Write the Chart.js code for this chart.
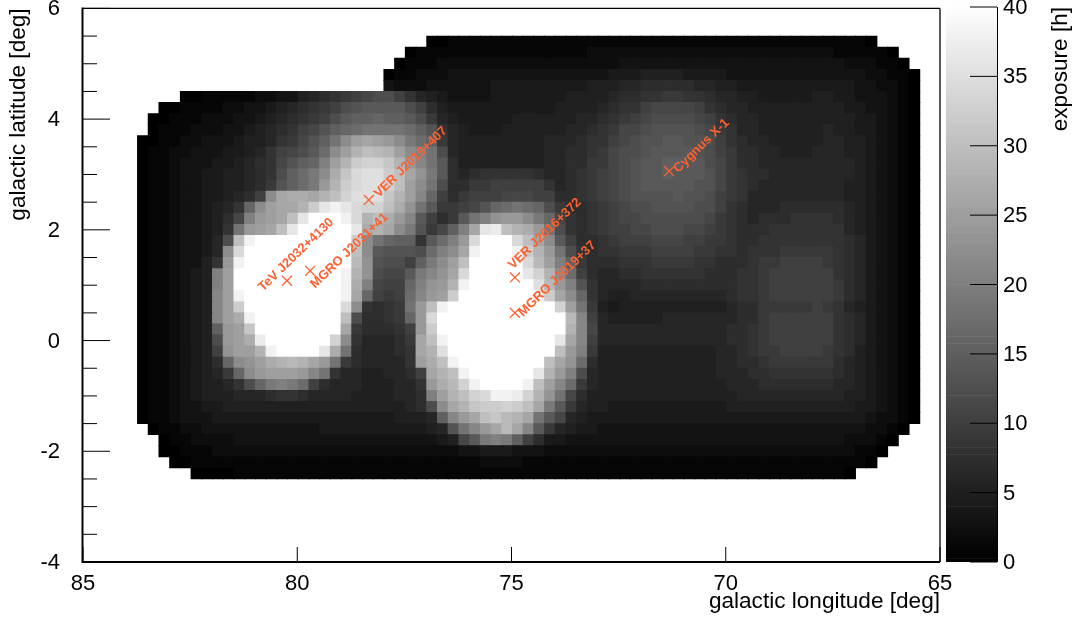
<!DOCTYPE html>
<html><head><meta charset="utf-8">
<script src="https://cdn.jsdelivr.net/npm/chart.js@4"></script>
<style>html,body{margin:0;padding:0;background:#fff;overflow:hidden}canvas{position:absolute;top:0}</style>
</head><body>
<canvas id="map" width="1079" height="621" style="left:0"></canvas>
<canvas id="bar" width="139" height="621" style="left:940px"></canvas>
<script>
const _ = null;
const cellLongitudes = [83.6,83.35,83.1,82.85,82.6,82.35,82.1,81.85,81.6,81.35,81.1,80.85,80.6,80.35,80.1,79.85,79.6,79.35,79.1,78.85,78.6,78.35,78.1,77.85,77.6,77.35,77.1,76.85,76.6,76.35,76.1,75.85,75.6,75.35,75.1,74.85,74.6,74.35,74.1,73.85,73.6,73.35,73.1,72.85,72.6,72.35,72.1,71.85,71.6,71.35,71.1,70.85,70.6,70.35,70.1,69.85,69.6,69.35,69.1,68.85,68.6,68.35,68.1,67.85,67.6,67.35,67.1,66.85,66.6,66.35,66.1,65.85,65.6];
const cellLatitudes = [5.4,5.2,5.0,4.8,4.6,4.4,4.2,4.0,3.8,3.6,3.4,3.2,3.0,2.8,2.6,2.4,2.2,2.0,1.8,1.6,1.4,1.2,1.0,0.8,0.6,0.4,0.2,0,-0.2,-0.4,-0.6,-0.8,-1.0,-1.2,-1.4,-1.6,-1.8,-2.0,-2.2,-2.4];
const row00=[_,_,_,_,_,_,_,_,_,_, _,_,_,_,_,_,_,_,_,_, _,_,_,_,_,_,_,0,0,1, 1,1,1,1,1,1,1,1,1,1, 1,1,1,1,1,1,1,1,1,1, 1,1,1,1,1,1,1,1,1,1, 1,1,1,1,1,1,1,1,0,_, _,_,_];
const row01=[_,_,_,_,_,_,_,_,_,_, _,_,_,_,_,_,_,_,_,_, _,_,_,_,_,0,1,1,1,1, 1,1,1,1,1,1,1,1,1,1, 1,1,2,2,2,2,2,2,2,2, 2,2,2,2,2,2,2,2,2,2, 2,2,2,2,2,1,1,1,1,1, 0,_,_];
const row02=[_,_,_,_,_,_,_,_,_,_, _,_,_,_,_,_,_,_,_,_, _,_,_,_,0,1,1,1,2,2, 2,2,2,2,2,2,2,2,2,2, 2,2,2,2,2,3,3,3,3,3, 3,3,3,3,3,3,3,3,3,3, 3,3,3,3,3,3,2,2,2,1, 1,0,_];
const row03=[_,_,_,_,_,_,_,_,_,_, _,_,_,_,_,_,_,_,_,_, _,_,_,0,1,1,2,2,2,3, 3,3,3,3,3,3,3,3,3,3, 3,3,3,3,4,4,4,5,5,5, 5,4,4,4,4,3,3,3,3,3, 3,3,3,3,3,3,3,3,2,2, 1,1,0];
const row04=[_,_,_,_,_,_,_,_,_,_, _,_,_,_,_,_,_,_,_,_, _,_,_,3,2,2,2,3,3,3, 3,3,3,4,4,4,4,4,4,4, 4,4,5,5,5,6,6,7,7,7, 7,7,6,6,5,5,4,4,4,4, 4,4,4,4,4,4,4,3,3,2, 2,1,0];
const row05=[_,_,_,_,0,0,1,1,1,1, 1,2,2,3,3,5,6,7,8,9, 10,11,12,12,10,8,6,5,4,3, 3,3,3,4,4,4,4,4,4,4, 5,5,5,5,6,7,7,8,8,9, 9,8,8,7,6,6,5,5,4,4, 4,4,4,5,5,4,4,3,3,3, 2,1,0];
const row06=[_,_,0,0,1,1,1,1,2,2, 3,3,4,5,6,7,8,9,10,12, 13,14,14,14,14,12,10,7,5,4, 4,4,4,4,4,4,4,4,4,5, 5,5,5,6,7,8,8,10,11,11, 11,11,10,8,7,6,6,5,5,5, 5,5,5,5,5,5,4,4,3,3, 2,1,0];
const row07=[_,0,0,1,1,1,2,2,2,3, 3,4,5,6,7,8,9,10,12,14, 15,15,16,15,15,14,12,9,6,5, 4,4,4,4,4,5,5,5,5,5, 5,6,6,7,8,9,10,11,12,12, 12,12,11,10,8,7,6,6,5,5, 5,5,5,5,5,5,5,4,4,3, 2,1,0];
const row08=[_,0,1,1,1,2,2,2,3,3, 4,5,6,7,8,10,11,13,15,16, 17,18,18,18,18,17,15,13,8,6, 5,4,4,4,5,5,5,5,5,5, 6,6,7,8,9,11,11,12,13,13, 13,13,12,11,9,8,6,6,5,5, 5,5,5,5,6,5,5,4,4,3, 2,1,0];
const row09=[0,0,1,1,2,2,3,3,3,4, 5,5,6,8,9,11,13,15,18,22, 25,26,25,24,22,19,17,15,9,6, 5,5,5,5,5,5,5,5,6,6, 6,7,8,8,10,11,12,13,13,14, 14,13,13,12,10,8,7,6,6,5, 5,5,5,5,6,6,5,5,4,3, 2,1,0];
const row10=[0,1,1,2,2,3,3,3,4,4, 5,6,8,10,11,12,14,17,22,25, 28,30,29,28,25,22,20,18,12,6, 5,5,5,5,5,5,5,5,6,6, 7,7,8,9,11,12,12,13,14,14, 14,14,13,12,10,9,7,7,6,6, 5,5,5,6,6,6,5,5,4,3, 2,1,0];
const row11=[0,1,1,2,3,3,3,4,4,5, 6,7,8,11,13,15,16,20,25,28, 32,33,33,31,28,24,21,18,14,7, 5,5,5,5,5,5,5,5,6,6, 7,7,9,9,11,12,13,14,14,15, 15,14,14,12,11,9,7,7,6,6, 6,6,6,6,6,6,6,5,4,3, 2,1,0];
const row12=[0,1,1,2,3,3,4,4,5,5, 6,7,8,12,15,17,19,22,27,31, 34,35,35,32,30,26,23,19,14,7, 6,7,8,8,8,8,8,7,6,6, 7,8,9,10,11,12,13,14,14,15, 14,14,14,13,11,9,8,7,7,6, 6,6,6,6,6,6,6,5,4,3, 2,1,0];
const row13=[0,1,1,2,3,3,4,4,5,5, 6,7,9,13,15,17,19,24,28,32, 34,35,35,33,30,25,22,18,12,7, 7,9,9,10,10,10,10,10,8,6, 7,8,9,10,11,12,13,14,14,14, 14,14,13,13,11,9,8,7,6,6, 6,6,6,6,6,6,5,5,4,3, 2,1,0];
const row14=[0,1,1,2,3,3,4,4,5,6, 7,10,22,26,27,27,26,28,30,33, 35,35,35,31,28,25,21,16,10,7, 9,10,10,10,11,11,11,10,10,7, 7,8,9,10,11,12,13,13,13,13, 14,13,13,12,10,9,8,6,6,6, 6,6,6,6,6,6,5,5,4,3, 2,1,0];
const row15=[0,1,1,2,3,3,4,5,6,8, 16,22,25,26,26,28,32,36,38,36, 34,33,33,30,27,23,18,14,9,9, 10,11,13,16,17,18,17,16,12,9, 7,7,8,9,10,11,12,12,13,13, 13,13,12,12,10,8,7,6,6,6, 7,7,7,7,7,7,6,5,4,3, 2,1,0];
const row16=[0,1,1,2,3,3,4,5,7,11, 20,24,25,26,30,36,40,40,40,38, 34,28,30,27,24,21,14,10,7,9, 14,18,20,23,24,24,22,19,16,11, 8,7,8,9,10,11,11,12,12,12, 12,12,12,11,9,8,7,6,7,7, 7,8,8,8,8,7,6,5,4,3, 2,1,0];
const row17=[0,1,1,2,3,3,4,5,8,18, 24,25,26,30,36,40,40,40,40,40, 36,27,28,26,22,19,13,9,11,15, 20,26,36,37,30,28,27,24,18,12, 8,7,8,9,10,10,11,11,12,12, 12,11,11,10,9,8,7,7,7,8, 8,8,8,8,8,8,6,5,4,3, 2,1,0];
const row18=[0,1,1,2,3,3,4,6,12,30, 38,40,40,40,40,40,40,40,40,40, 32,22,18,16,15,15,8,14,17,20, 24,34,40,40,40,34,30,26,22,14, 10,7,7,8,9,10,10,10,11,11, 11,10,10,9,9,8,7,7,8,8, 8,8,8,8,8,8,7,6,4,3, 2,1,0];
const row19=[0,1,1,2,3,3,4,6,22,34, 40,40,40,40,40,40,40,40,40,40, 30,22,14,13,13,13,12,17,20,22, 26,38,40,40,40,38,32,28,24,18, 12,8,7,8,8,9,9,9,10,10, 10,10,9,9,8,8,7,8,8,8, 9,9,9,9,9,8,7,6,4,3, 2,1,0];
const row20=[0,1,1,2,3,3,5,8,24,38, 40,40,40,40,40,40,40,40,40,40, 29,23,13,12,12,10,15,19,22,25, 30,40,40,40,40,40,34,29,25,20, 15,9,7,7,7,8,8,8,9,9, 9,9,8,8,7,7,7,8,9,9, 10,10,10,10,9,8,7,6,4,3, 2,1,0];
const row21=[0,1,1,2,3,4,5,20,25,40, 40,40,40,40,40,40,40,40,40,38, 28,23,12,11,11,14,19,21,23,26, 34,40,40,40,40,40,36,33,28,22, 17,10,7,6,6,7,7,8,8,8, 8,8,8,7,7,7,8,8,9,10, 10,10,10,10,10,8,7,6,4,3, 2,1,0];
const row22=[0,1,1,2,3,4,5,20,25,40, 40,40,40,40,40,40,40,40,40,38, 27,20,11,10,10,16,20,23,24,28, 38,40,40,40,40,40,40,35,29,24, 20,13,8,6,6,6,6,7,7,7, 7,7,7,7,7,7,8,8,9,10, 10,10,10,10,10,9,7,6,4,3, 2,1,0];
const row23=[0,1,1,2,3,4,5,21,25,38, 40,40,40,40,40,40,40,40,40,38, 26,16,10,9,10,17,21,24,25,32, 40,40,40,40,40,40,40,38,32,26, 22,16,8,6,5,5,6,6,6,6, 6,6,6,6,6,7,8,8,9,10, 10,10,10,10,10,9,7,6,4,3, 2,1,0];
const row24=[0,1,1,2,3,4,5,21,25,32, 40,40,40,40,40,40,40,40,40,34, 22,8,7,8,9,18,24,30,38,40, 40,40,40,40,40,40,40,40,40,33, 25,18,9,5,4,5,5,5,5,5, 5,5,5,5,5,6,7,7,9,9, 9,9,9,10,9,8,6,5,4,3, 2,1,0];
const row25=[0,1,1,2,3,4,5,21,25,27, 38,40,40,40,40,40,40,40,40,30, 12,7,7,8,9,16,24,34,40,40, 40,40,40,40,40,40,40,40,40,40, 29,21,10,6,5,5,5,5,5,6, 6,6,6,6,6,6,7,7,9,10, 10,10,10,10,10,8,7,6,4,3, 2,1,0];
const row26=[0,1,1,2,3,4,5,15,24,25, 31,40,40,40,40,40,40,40,40,26, 9,7,7,7,8,10,24,32,40,40, 40,40,40,40,40,40,40,40,40,40, 28,21,11,6,6,6,6,6,6,6, 6,6,6,6,6,7,7,8,9,10, 10,10,10,10,10,8,7,6,4,3, 2,1,0];
const row27=[0,1,1,2,3,4,5,12,24,25, 27,37,40,40,40,40,40,40,33,22, 8,6,6,6,7,9,26,30,38,40, 40,40,40,40,40,40,40,40,40,36, 26,21,10,6,6,6,6,6,6,6, 6,6,6,6,6,7,7,8,9,10, 10,10,10,10,10,8,7,6,4,3, 2,1,0];
const row28=[0,1,1,2,3,4,5,10,23,25, 25,28,38,40,40,40,40,36,27,18, 7,6,6,6,7,8,26,28,35,40, 40,40,40,40,40,40,40,40,40,30, 24,20,9,5,5,5,5,5,5,5, 5,5,5,5,6,6,7,8,9,9, 10,10,10,10,9,8,7,5,4,3, 2,1,0];
const row29=[0,1,1,2,3,4,5,7,16,22, 23,25,27,28,29,28,26,24,18,9, 7,6,6,6,6,8,25,27,30,38, 40,40,40,40,40,40,40,40,30,26, 23,17,7,5,5,5,5,5,5,5, 5,5,5,5,6,6,7,7,8,9, 9,9,9,9,9,7,6,5,4,3, 2,1,0];
const row30=[0,1,1,2,3,4,5,6,9,16, 22,24,25,25,25,24,21,18,8,6, 6,5,5,6,6,7,10,26,28,30, 38,40,40,40,40,40,40,36,28,24, 20,12,6,5,5,5,5,5,5,5, 5,5,5,5,6,6,6,7,7,8, 8,8,8,8,8,7,6,5,4,3, 2,1,0];
const row31=[0,1,1,2,3,4,5,5,6,8, 12,16,19,20,19,17,10,7,6,6, 6,5,5,5,6,6,8,24,27,29, 33,38,40,40,40,40,38,30,25,21, 17,9,6,5,5,5,5,5,5,5, 5,5,5,5,5,6,6,6,7,7, 7,7,7,7,7,6,6,5,4,3, 2,1,0];
const row32=[0,1,1,2,3,4,5,5,5,6, 6,6,7,8,8,7,6,6,6,6, 5,5,5,5,6,6,7,20,25,28, 30,33,34,38,38,37,33,28,23,18, 11,7,5,5,5,5,5,5,5,5, 5,5,5,5,5,5,6,6,6,6, 6,6,6,6,6,6,5,5,4,3, 2,1,0];
const row33=[0,1,1,2,3,3,4,4,5,5, 5,5,5,5,5,5,5,5,5,5, 5,5,5,5,5,6,7,12,22,26, 28,31,32,32,33,32,30,26,19,14, 9,6,5,5,4,4,4,4,4,4, 4,4,4,4,4,5,5,5,5,5, 5,5,5,5,5,5,5,4,4,3, 2,1,0];
const row34=[0,1,1,2,3,3,3,4,4,4, 4,4,4,4,4,4,4,4,4,4, 4,4,4,4,5,5,5,6,15,21, 24,26,30,31,29,28,26,18,14,11, 6,5,4,4,4,4,4,4,4,4, 4,4,4,4,4,4,4,4,4,4, 4,4,4,4,4,4,4,4,3,2, 2,1,0];
const row35=[_,0,1,1,2,2,3,3,3,3, 3,3,3,3,3,3,3,4,4,4, 4,4,4,4,4,4,4,5,6,13, 18,21,24,26,29,26,21,14,9,6, 5,4,4,3,3,3,3,3,3,3, 3,3,3,3,3,3,3,3,3,3, 3,3,3,3,3,3,3,3,2,2, 1,0,_];
const row36=[_,_,0,1,1,2,2,2,2,3, 3,3,3,3,3,3,3,3,3,3, 3,3,3,3,3,3,3,3,4,5, 11,14,19,20,19,15,10,7,4,4, 3,3,3,3,3,3,3,3,3,3, 3,3,3,3,3,3,3,3,3,3, 3,3,3,3,3,3,2,2,2,1, 0,_,_];
const row37=[_,_,0,0,1,1,1,2,2,2, 2,2,2,2,2,2,2,2,2,2, 2,2,2,2,2,2,2,2,2,2, 3,3,4,4,4,3,3,3,2,2, 2,2,2,2,2,2,2,2,2,2, 2,2,2,2,2,2,2,2,2,2, 2,2,2,2,2,2,2,1,1,0, _,_,_];
const row38=[_,_,_,0,0,1,1,1,1,1, 1,1,1,1,1,1,1,1,1,1, 1,1,1,1,1,1,1,1,1,1, 1,1,2,2,2,2,1,1,1,1, 1,1,1,1,1,1,1,1,1,1, 1,1,1,1,1,1,1,1,1,1, 1,1,1,1,1,1,1,1,0,_, _,_,_];
const row39=[_,_,_,_,_,0,0,0,0,1, 1,1,1,1,1,1,1,1,1,1, 1,1,1,1,1,1,1,1,1,1, 1,1,1,1,1,1,1,1,1,1, 1,1,1,1,1,1,1,1,1,1, 1,1,1,1,1,1,1,1,1,1, 1,1,1,1,1,1,0,_,_,_, _,_,_];
const exposureRows = [row00,row01,row02,row03,row04,row05,row06,row07,row08,row09,row10,row11,row12,row13,row14,row15,row16,row17,row18,row19,row20,row21,row22,row23,row24,row25,row26,row27,row28,row29,row30,row31,row32,row33,row34,row35,row36,row37,row38,row39];

const sourceNames = ['TeV J2032+4130','MGRO J2031+41','VER J2019+407','VER J2016+372','MGRO J2019+37','Cygnus X-1'];
const sourceLon = [80.24,79.70,78.33,74.92,74.92,71.32];
const sourceLat = [1.08,1.26,2.54,1.14,0.50,3.06];
const labelOffsetX = [-24,5,10,-2,8,9];
const labelOffsetY = [11,18,-2,-8,4,2];
const colorbarLevels = [];
for (let k = 0; k < 160; k++) colorbarLevels.push(k * 0.25);

const ORANGE = '#ff6030';
const FONT = '"Liberation Sans", Arial, sans-serif';
const gray = v => { const g = Math.round(Math.min(v, 40) / 40 * 255); return `rgb(${g},${g},${g})`; };

const cells = [];
exposureRows.forEach((row, j) => row.forEach((v, i) => {
  if (v !== null) cells.push({x: cellLongitudes[i], y: cellLatitudes[j], v});
}));
const sources = sourceNames.map((name, i) => ({x: sourceLon[i], y: sourceLat[i], name, dx: labelOffsetX[i], dy: labelOffsetY[i]}));

function text(ctx, str, x, y, rot, align, font, color) {
  ctx.save(); ctx.translate(x, y); ctx.rotate(rot);
  ctx.font = font; ctx.fillStyle = color; ctx.textAlign = align; ctx.textBaseline = 'alphabetic';
  ctx.fillText(str, 0, 0); ctx.restore();
}
function line(ctx, x1, y1, x2, y2, w) {
  ctx.beginPath(); ctx.lineWidth = w; ctx.strokeStyle = '#000'; ctx.moveTo(x1, y1); ctx.lineTo(x2, y2); ctx.stroke();
}
const frame = {
  id: 'frame',
  afterDatasetsDraw(chart) {
    const {ctx, chartArea: a, scales: {x, y}} = chart;
    ctx.save();
    line(ctx, a.left - 0.5, a.top - 1, a.left - 0.5, a.bottom + 1, 2);
    line(ctx, a.left, a.bottom, a.right, a.bottom, 2);
    line(ctx, a.left, a.top, a.right, a.top, 1.3);
    line(ctx, a.right, a.top, a.right, a.bottom, 1.3);
    y.ticks.forEach(t => {
      const py = y.getPixelForValue(t.value);
      const major = Math.abs(t.value % 2) < 1e-6;
      line(ctx, a.left, py, a.left + (major ? 27 : 14), py, 1);
    });
    x.ticks.forEach(t => {
      const px = x.getPixelForValue(t.value);
      line(ctx, px, a.bottom, px, a.bottom - 15, 1);
    });
    sources.forEach(s => {
      const px = x.getPixelForValue(s.x) + s.dx, py = y.getPixelForValue(s.y) + s.dy;
      text(ctx, s.name, px, py, -44 * Math.PI / 180, 'left', 'bold 13px ' + FONT, ORANGE);
    });
    text(ctx, 'galactic longitude [deg]', a.right, 608, 0, 'right', '22.6px ' + FONT, '#000');
    text(ctx, 'galactic latitude [deg]', 25, a.top, -Math.PI / 2, 'right', '22.6px ' + FONT, '#000');
    ctx.restore();
  }
};
new Chart(document.getElementById('map'), {
  type: 'scatter',
  plugins: [frame],
  data: {datasets: [
    {label: 'exposure', data: cells, pointStyle: 'rect', pointRadius: 8.4, pointHoverRadius: 8.4, borderWidth: 0,
     backgroundColor: c => gray(c.raw ? c.raw.v : 0), order: 2},
    {label: 'sources', data: sources, pointStyle: 'crossRot', pointRadius: 7, borderWidth: 1.3,
     borderColor: ORANGE, backgroundColor: ORANGE, order: 1}
  ]},
  options: {
    responsive: false, animation: false, events: [],
    layout: {padding: {left: 0, top: 7, right: 139, bottom: 0}},
    plugins: {legend: {display: false}, tooltip: {enabled: false}},
    scales: {
      x: {type: 'linear', reverse: true, min: 65, max: 85,
          border: {display: false}, grid: {display: false, drawTicks: false},
          ticks: {stepSize: 5, maxRotation: 0, autoSkip: false, padding: 9, color: '#000', font: {family: FONT, size: 22}},
          afterFit(s) { s.height = 59; s.paddingLeft = 0; s.paddingRight = 0; }},
      y: {type: 'linear', min: -4, max: 6,
          border: {display: false}, grid: {display: false, drawTicks: false},
          ticks: {stepSize: 0.5, autoSkip: false, padding: 23, labelOffset: 1, color: '#000', font: {family: FONT, size: 22},
                  callback: v => Math.abs(v % 2) < 1e-6 ? String(v) : ''},
          afterFit(s) { s.width = 83; s.paddingTop = 0; s.paddingBottom = 0; }}
    }
  }
});
const barFrame = {
  id: 'barFrame',
  afterDatasetsDraw(chart) {
    const {ctx, chartArea: a, scales: {y}} = chart;
    ctx.save();
    line(ctx, a.right + 0.5, a.top, a.right + 0.5, a.bottom, 1);
    y.ticks.forEach(t => {
      const py = y.getPixelForValue(t.value);
      line(ctx, a.right - 27, py, a.right, py, 1);
    });
    text(ctx, 'exposure [h]', 127, a.top, -Math.PI / 2, 'right', '22.6px ' + FONT, '#000');
    ctx.restore();
  }
};
new Chart(document.getElementById('bar'), {
  type: 'bar',
  plugins: [barFrame],
  data: {labels: ['exposure'], datasets: colorbarLevels.map(l => ({
    data: [[l, l + 0.25]], backgroundColor: gray(l), borderWidth: 0, grouped: false,
    barPercentage: 1, categoryPercentage: 1
  }))},
  options: {
    responsive: false, animation: false, events: [],
    layout: {padding: {left: 6, top: 7, right: 0, bottom: 59}},
    plugins: {legend: {display: false}, tooltip: {enabled: false}},
    scales: {
      x: {display: false},
      y: {type: 'linear', position: 'right', min: 0, max: 40,
          border: {display: false}, grid: {display: false, drawTicks: false},
          ticks: {stepSize: 5, padding: 6, labelOffset: 1, color: '#000', font: {family: FONT, size: 22}},
          afterFit(s) { s.width = 82; s.paddingTop = 0; s.paddingBottom = 0; }}
    }
  }
});
</script>
</body></html>
